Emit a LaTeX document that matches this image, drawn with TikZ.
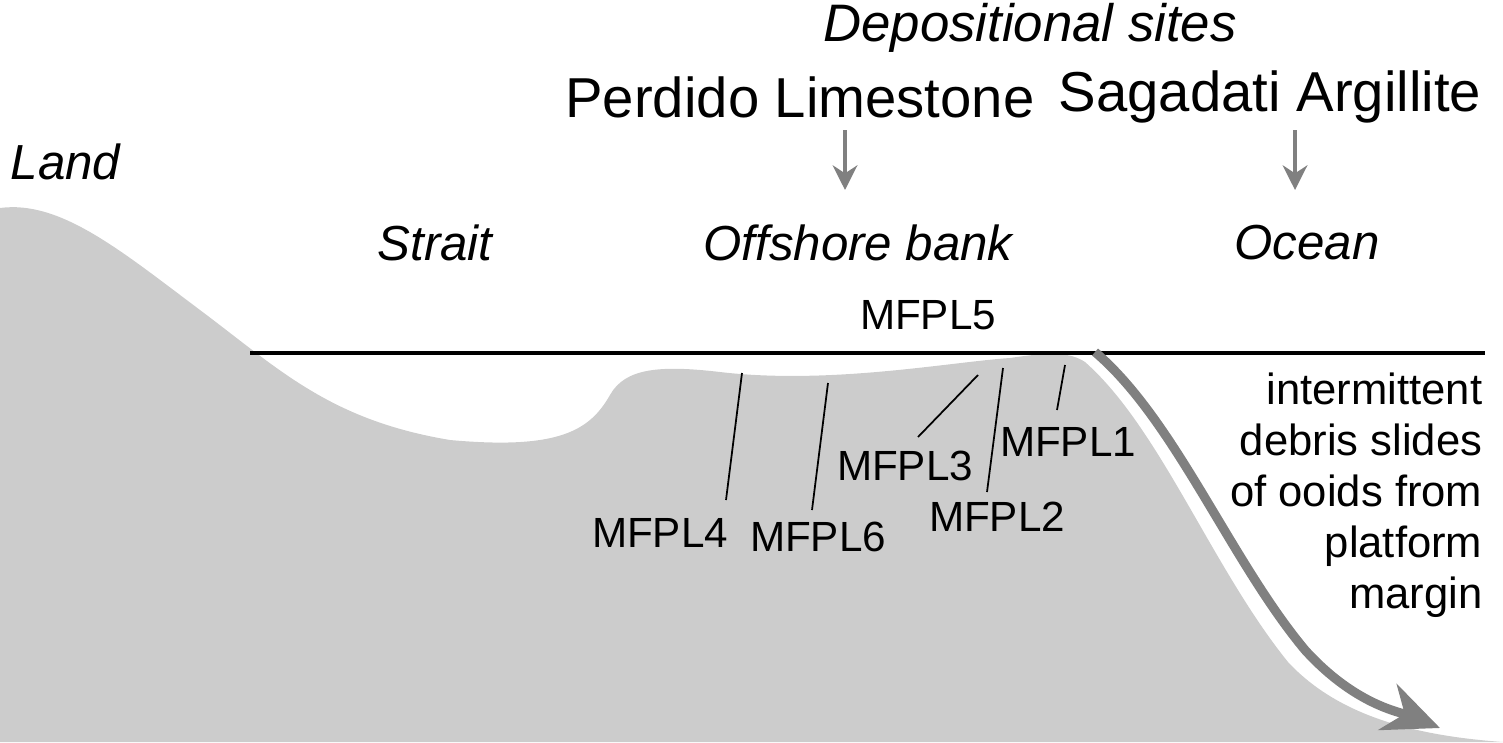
\documentclass[tikz,border=0pt]{standalone}
\usepackage{fontspec}
\setmainfont{Liberation Sans}
\usetikzlibrary{arrows.meta}
\definecolor{landgray}{gray}{0.8}
\definecolor{arrgray}{gray}{0.5}
\tikzset{
 lbl/.style={font=\fontsize{16}{18}\selectfont, inner sep=0pt},
 zone/.style={font=\fontsize{14}{16}\selectfont\itshape, inner sep=0pt},
 smp/.style={font=\fontsize{12}{14}\selectfont, inner sep=0pt},
 tick/.style={line width=0.5pt},
 site/.style={arrgray, line width=1.2pt, -{Stealth[length=7pt,width=7pt]}}
}
\begin{document}
\begin{tikzpicture}[x=0.01cm,y=-0.01cm]
\useasboundingbox (0,0) rectangle (1503,742);
% ground profile
\fill[landgray] (0,742) -- (0,208) .. controls (60,200) and (120,250) .. (200,310)
 .. controls (280,370) and (330,420) .. (450,440)
 .. controls (560,450) and (590,430) .. (610,395)
 .. controls (625,368) and (660,365) .. (720,372)
 .. controls (830,385) and (950,362) .. (1010,358)
 .. controls (1050,352) and (1070,352) .. (1085,362)
 .. controls (1160,428) and (1212,568) .. (1288,662)
 .. controls (1340,718) and (1420,736) .. (1503,742) -- cycle;
% sea level
\coordinate (sl1) at (250,353);
\coordinate (sl2) at (1485,353);
\draw[line width=1.2pt] (sl1) -- (sl2);
% debris slide
\coordinate (d1) at (1095,352);
\coordinate (d2) at (1440,728);
\draw[arrgray, line width=2.6pt, -{Stealth[length=16pt,width=14pt]}] (d1) .. controls (1175,420) and (1230,560) .. (1305,650) .. controls (1355,705) and (1400,712) .. (d2);
% labels
\node[zone, font=\fontsize{15}{17}\selectfont\itshape] (dep) at (1030,28) {Depositional sites};
\node[lbl] (perd) at (800,97) {Perdido Limestone};
\node[lbl] (saga) at (1270,97) {Sagadati Argillite};
\node[zone, anchor=west] (land) at (10,162) {Land};
\node[zone] (strait) at (435,243) {Strait};
\node[zone] (bank) at (858,243) {Offshore bank};
\node[zone] (ocean) at (1307,243) {Ocean};
\coordinate (pa) at (845,190);
\coordinate (sa) at (1295,190);
\draw[site] (845,130) -- (pa);
\draw[site] (1295,130) -- (sa);
% samples
\node[smp] (m5) at (928,315) {MFPL5};
\node[smp] (m4) at (660,533) {MFPL4};
\node[smp] (m6) at (818,537) {MFPL6};
\node[smp] (m3) at (905,466) {MFPL3};
\node[smp] (m2) at (997,517) {MFPL2};
\node[smp] (m1) at (1068,442) {MFPL1};
\coordinate (p4) at (742,373);
\coordinate (p6) at (828,383);
\coordinate (p3) at (978,375);
\coordinate (p2) at (1003,368);
\coordinate (p1) at (1065,365);
\draw[tick] (p4) -- (726,500);
\draw[tick] (p6) -- (812,510);
\draw[tick] (p3) -- (918,437);
\draw[tick] (p2) -- (987,492);
\draw[tick] (p1) -- (1057,410);
\node[smp, anchor=east, align=right, font=\fontsize{12.4}{14.5}\selectfont] (slide) at (1483,495)
 {intermittent\\debris slides\\of ooids from\\platform\\margin};
\end{tikzpicture}
\end{document}
